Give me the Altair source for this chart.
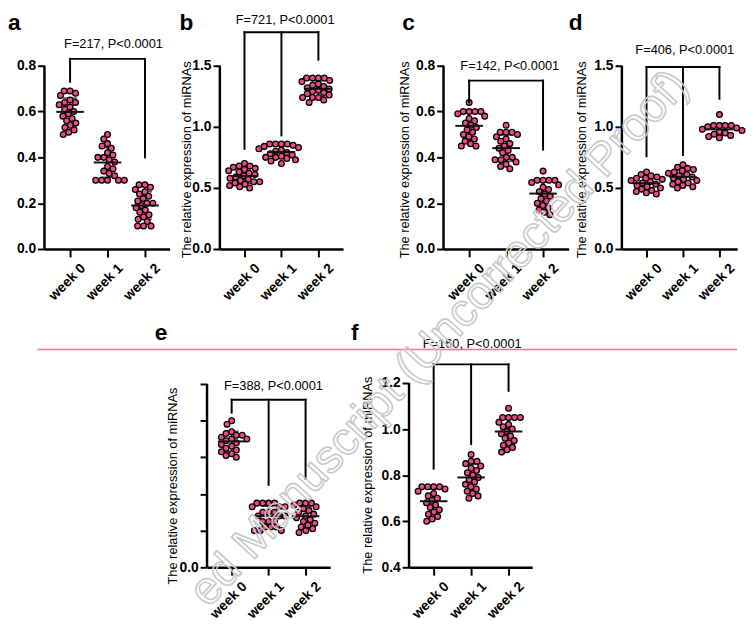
import altair as alt
import numpy as np
import pandas as pd

WEEKS = ["week 0", "week 1", "week 2"]
Y_TITLE = "The relative expression of miRNAs"
WATERMARK = "ed Manuscript (Uncorrected Proof)"
FONT = "Liberation Sans, Arial, Helvetica, sans-serif"
PINK = "#ee4b85"

# ---------------- values ----------------
a_week0 = [0.69, 0.69, 0.68, 0.67, 0.65, 0.64, 0.64, 0.63, 0.62, 0.61, 0.60, 0.59, 0.58, 0.57, 0.56, 0.55, 0.54, 0.53, 0.52, 0.51, 0.50]
a_week1 = [0.50, 0.48, 0.46, 0.45, 0.44, 0.42, 0.41, 0.40, 0.40, 0.39, 0.38, 0.36, 0.35, 0.34, 0.33, 0.32, 0.30, 0.30, 0.30, 0.30, 0.30]
a_week2 = [0.28, 0.28, 0.27, 0.26, 0.25, 0.24, 0.23, 0.22, 0.21, 0.20, 0.20, 0.19, 0.18, 0.17, 0.16, 0.15, 0.14, 0.13, 0.12, 0.10, 0.10, 0.10]

b_week0 = [0.70, 0.68, 0.68, 0.67, 0.66, 0.65, 0.64, 0.63, 0.62, 0.61, 0.60, 0.59, 0.58, 0.57, 0.56, 0.55, 0.55, 0.54, 0.53, 0.52, 0.51, 0.50]
b_week1 = [0.86, 0.86, 0.86, 0.86, 0.85, 0.84, 0.83, 0.82, 0.81, 0.80, 0.79, 0.78, 0.77, 0.76, 0.75, 0.75, 0.74, 0.73, 0.72, 0.70]
b_week2 = [1.40, 1.40, 1.40, 1.40, 1.38, 1.37, 1.35, 1.34, 1.33, 1.32, 1.31, 1.30, 1.29, 1.28, 1.27, 1.26, 1.24, 1.24, 1.24, 1.22, 1.20]

c_week0 = [0.64, 0.60, 0.60, 0.60, 0.60, 0.59, 0.58, 0.57, 0.56, 0.55, 0.54, 0.53, 0.52, 0.51, 0.50, 0.49, 0.48, 0.47, 0.46, 0.45, 0.45]
c_week1 = [0.54, 0.51, 0.51, 0.51, 0.50, 0.49, 0.48, 0.47, 0.46, 0.45, 0.44, 0.43, 0.42, 0.40, 0.40, 0.39, 0.39, 0.38, 0.37, 0.36, 0.35]
c_week2 = [0.34, 0.30, 0.30, 0.30, 0.30, 0.29, 0.28, 0.27, 0.26, 0.25, 0.24, 0.23, 0.22, 0.21, 0.20, 0.19, 0.18, 0.17, 0.16, 0.15]

d_week0 = [0.63, 0.61, 0.60, 0.59, 0.58, 0.58, 0.57, 0.56, 0.55, 0.54, 0.53, 0.52, 0.51, 0.50, 0.49, 0.48, 0.47, 0.46, 0.45]
d_week1 = [0.69, 0.67, 0.66, 0.65, 0.64, 0.63, 0.62, 0.61, 0.60, 0.59, 0.58, 0.57, 0.56, 0.55, 0.54, 0.53, 0.52, 0.51, 0.50]
d_week2 = [1.10, 1.01, 1.01, 1.01, 1.01, 1.00, 0.99, 0.98, 0.97, 0.96, 0.95, 0.94, 0.93, 0.92, 0.91]

e_week0 = [0.80, 0.78, 0.74, 0.73, 0.72, 0.72, 0.71, 0.70, 0.70, 0.69, 0.68, 0.67, 0.66, 0.65, 0.64, 0.63, 0.62, 0.61, 0.60]
e_week1 = [0.35, 0.35, 0.35, 0.35, 0.33, 0.33, 0.33, 0.30, 0.30, 0.30, 0.28, 0.28, 0.28, 0.25, 0.25, 0.25, 0.22, 0.22, 0.22, 0.20, 0.20, 0.20]
e_week2 = [0.35, 0.35, 0.35, 0.34, 0.33, 0.32, 0.31, 0.30, 0.29, 0.28, 0.27, 0.26, 0.25, 0.24, 0.23, 0.22, 0.21, 0.20, 0.19]

f_week0 = [0.75, 0.75, 0.75, 0.75, 0.74, 0.73, 0.72, 0.71, 0.70, 0.69, 0.68, 0.67, 0.66, 0.65, 0.64, 0.63, 0.62, 0.61, 0.60]
f_week1 = [0.89, 0.86, 0.86, 0.85, 0.84, 0.83, 0.82, 0.81, 0.80, 0.79, 0.78, 0.77, 0.76, 0.75, 0.74, 0.73, 0.72, 0.71, 0.70]
f_week2 = [1.09, 1.05, 1.05, 1.05, 1.05, 1.03, 1.02, 1.01, 1.00, 0.99, 0.98, 0.97, 0.96, 0.95, 0.94, 0.93, 0.92, 0.91, 0.90]

# tick values of each y axis
a_ticks = [0.0, 0.2, 0.4, 0.6, 0.8]
b_ticks = [0.0, 0.5, 1.0, 1.5]
c_ticks = [0.0, 0.2, 0.4, 0.6, 0.8]
d_ticks = [0.0, 0.5, 1.0, 1.5]
e_ticks = [0.0, 0.2, 0.4, 0.6, 0.8, 1.0]
f_ticks = [0.4, 0.6, 0.8, 1.0, 1.2]

# ANOVA annotation text, its anchor (week units, y value)
a_stat = "F=217, P<0.0001"; a_stat_at = [1.16, 0.895]
b_stat = "F=721, P<0.0001"; b_stat_at = [1.10, 1.87]
c_stat = "F=142, P<0.0001"; c_stat_at = [1.10, 0.80]
d_stat = "F=406, P<0.0001"; d_stat_at = [1.05, 1.63]
e_stat = "F=388, P<0.0001"; e_stat_at = [1.13, 0.99]
f_stat = "F=160, P<0.0001"; f_stat_at = [1.03, 1.367]

# comparison brackets: top level, the weeks that drop down, and where they end
a_br_top = 0.83;  a_br_weeks = [0, 2];    a_br_ends = [0.73, 0.40]
b_br_top = 1.774; b_br_weeks = [0, 1, 2]; b_br_ends = [0.82, 0.93, 1.55]
c_br_top = 0.735; c_br_weeks = [0, 2];    c_br_ends = [0.64, 0.434]
d_br_top = 1.49;  d_br_weeks = [0, 1, 2]; d_br_ends = [0.76, 0.77, 1.23]
e_br_top = 0.914; e_br_weeks = [0, 1, 2]; e_br_ends = [0.844, 0.45, 0.484]
f_br_top = 1.281; f_br_weeks = [0, 1, 2]; f_br_ends = [0.828, 0.935, 1.166]

# ---------------- layout (pixels) ----------------
H1 = 240
H2 = 249
LAYOUT = {
    "a": dict(width=127, step=38.0, first=26, ppu=232.5, ylo=0.0, height=H1, tx=None, ty=None, ldx=-37),
    "b": dict(width=125, step=37.5, first=25, ppu=124.0, ylo=0.0, height=H1, tx=-34, ty=149, ldx=-41),
    "c": dict(width=127, step=37.5, first=26, ppu=232.5, ylo=0.0, height=H1, tx=-40, ty=149, ldx=-42),
    "d": dict(width=117, step=37.0, first=25, ppu=124.0, ylo=0.0, height=H1, tx=-41, ty=149, ldx=-54),
    "e": dict(width=125, step=37.5, first=25, ppu=186.0, ylo=0.0, height=H2, tx=-35, ty=166, ldx=-53),
    "f": dict(width=125, step=38.0, first=25, ppu=233.75, ylo=0.4, height=H2, tx=-42, ty=155, ldx=-59),
}
DOT = 6.0  # dot spacing for the swarm layout (px)
# watermark: end point relative to panel f's origin, rotation, size
WM_X, WM_Y, WM_ANGLE, WM_SIZE = 275, -248, 312.7, 47
ROW_GAP = -246  # the watermark raises row 2's bounding box top


def swarm(vals, ppu, diam=DOT):
    """Beeswarm layout: horizontal pixel offsets so dots do not overlap."""
    ys = np.asarray(vals, dtype=float) * ppu
    order = np.argsort(-ys, kind="stable")
    placed = []
    out = np.zeros(len(ys))
    for n, i in enumerate(order):
        y = ys[i]
        cands = [0.0]
        for px, py in placed:
            dy = abs(py - y)
            if dy < diam:
                dx = float(np.sqrt(diam * diam - dy * dy))
                cands += [px + dx, px - dx]
        sign = 1 if n % 2 else -1
        cands.sort(key=lambda c: (round(abs(c), 6), sign * c))
        for c in cands:
            if all((c - px) ** 2 + (y - py) ** 2 >= diam * diam - 1e-6 for px, py in placed):
                out[i] = c
                placed.append((c, y))
                break
    return out


def panel(key, groups, ticks, stat, stat_at, br_top, br_weeks, br_ends, zero_only=False, watermark=False):
    L = LAYOUT[key]
    step = L["step"]
    xlo = -L["first"] / step
    xhi = xlo + L["width"] / step
    ylo = L["ylo"]
    yhi = ylo + L["height"] / L["ppu"]

    rows, stats = [], []
    for wi, vals in enumerate(groups):
        offs = swarm(vals, L["ppu"])
        for v, o in zip(vals, offs):
            rows.append({"x": wi + o / step, "v": v})
        m = float(np.mean(vals))
        s = float(np.std(vals, ddof=1))
        stats.append({"w": wi, "m": m, "s": s})
    pts = pd.DataFrame(rows)
    st = pd.DataFrame(stats)

    xaxis = alt.Axis(values=[0, 1, 2], labelExpr="'week ' + datum.value", labelAngle=315,
                     labelAlign="right", labelBaseline="middle", labelOffset=13, labelPadding=9,
                     labelFontSize=14, labelFontWeight="bold", labelOverlap=False, labelFlush=False,
                     tickSize=8, tickWidth=2, domainWidth=2.5, grid=False)
    X = alt.X("x:Q", scale=alt.Scale(domain=[xlo, xhi], nice=False, zero=False), axis=xaxis, title=None)

    ykw = dict(values=ticks, format=".1f", domain=False, tickSize=7, tickWidth=2,
               labelFontSize=14, labelFontWeight="bold", labelPadding=2, labelFlush=False,
               labelOverlap=False, grid=False)
    if zero_only:
        ykw["labelExpr"] = "datum.value == 0 ? '0.0' : ''"
    yscale = alt.Scale(domain=[ylo, yhi], nice=False, zero=False)
    if L["tx"] is not None:
        ykw.update(title=Y_TITLE, titleX=L["tx"], titleY=L["ty"], titleAngle=270,
                   titleAlign="center", titleBaseline="middle", titleFontSize=13,
                   titleFontWeight="normal")
        Y = alt.Y("v:Q", scale=yscale, axis=alt.Axis(**ykw))
    else:
        Y = alt.Y("v:Q", scale=yscale, axis=alt.Axis(**ykw), title=None)

    # y axis line (stops at the last tick)
    axis_df = pd.DataFrame({"v": [ticks[0]], "v2": [ticks[-1]]})
    axis_line = alt.Chart(axis_df).mark_rule(color="black", strokeWidth=2.5).encode(
        x=alt.value(0), y=Y, y2=alt.Y2("v2"))

    cap = 7.0 / step
    half = 14.0 / step
    sd_df = pd.DataFrame({"x": st["w"], "v": st["m"] - st["s"], "v2": st["m"] + st["s"]})
    sd_bar = alt.Chart(sd_df).mark_rule(color="#444444", strokeWidth=1.5).encode(x=X, y=Y, y2=alt.Y2("v2"))
    caps_df = pd.DataFrame({
        "x": list(st["w"] - cap) * 2, "x2": list(st["w"] + cap) * 2,
        "v": list(st["m"] - st["s"]) + list(st["m"] + st["s"])})
    sd_caps = alt.Chart(caps_df).mark_rule(color="#444444", strokeWidth=1.5).encode(x=X, x2=alt.X2("x2"), y=Y)

    dots = alt.Chart(pts).mark_circle(color=PINK, opacity=1, size=34, stroke="black",
                                      strokeWidth=1.3).encode(x=X, y=Y)

    mean_df = pd.DataFrame({"x": st["w"] - half, "x2": st["w"] + half, "v": st["m"]})
    mean_line = alt.Chart(mean_df).mark_rule(color="#111111", strokeWidth=2).encode(
        x=X, x2=alt.X2("x2"), y=Y)

    drop_df = pd.DataFrame({"x": br_weeks, "v": br_ends, "v2": [br_top] * len(br_weeks)})
    drops = alt.Chart(drop_df).mark_rule(color="black", strokeWidth=2, strokeCap="square").encode(
        x=X, y=Y, y2=alt.Y2("v2"))
    top_df = pd.DataFrame({"x": [0], "x2": [2], "v": [br_top]})
    top = alt.Chart(top_df).mark_rule(color="black", strokeWidth=2, strokeCap="square").encode(
        x=X, x2=alt.X2("x2"), y=Y)

    stat_df = pd.DataFrame({"x": [stat_at[0]], "v": [stat_at[1]], "t": [stat]})
    stat_txt = alt.Chart(stat_df).mark_text(font=FONT, fontSize=13, color="black", align="center",
                                            baseline="middle").encode(x=X, y=Y, text="t:N")

    letter_df = pd.DataFrame({"t": [key]})
    letter = alt.Chart(letter_df).mark_text(font=FONT, fontSize=23, fontWeight="bold", color="black",
                                            align="left", baseline="top").encode(
        x=alt.value(L["ldx"]), y=alt.value(0), text="t:N")

    layers = [axis_line, sd_bar, sd_caps, dots, mean_line, drops, top, stat_txt, letter]
    if watermark:
        wm = alt.Chart(pd.DataFrame({"t": [WATERMARK]})).mark_text(
            font=FONT, fontSize=WM_SIZE, angle=WM_ANGLE, align="right", baseline="middle",
            fill="white", fillOpacity=0, stroke="#c9c9c9", strokeWidth=1.6
        ).encode(x=alt.value(WM_X), y=alt.value(WM_Y), text="t:N")
        layers.append(wm)
    return alt.layer(*layers).properties(width=L["width"], height=L["height"])


def spacer(w, h):
    return alt.Chart(pd.DataFrame({"s": [0]})).mark_point(opacity=0).properties(width=w, height=h)


pa = panel("a", [a_week0, a_week1, a_week2], a_ticks, a_stat, a_stat_at, a_br_top, a_br_weeks, a_br_ends)
pb = panel("b", [b_week0, b_week1, b_week2], b_ticks, b_stat, b_stat_at, b_br_top, b_br_weeks, b_br_ends)
pc = panel("c", [c_week0, c_week1, c_week2], c_ticks, c_stat, c_stat_at, c_br_top, c_br_weeks, c_br_ends)
pd_ = panel("d", [d_week0, d_week1, d_week2], d_ticks, d_stat, d_stat_at, d_br_top, d_br_weeks, d_br_ends)
pe = panel("e", [e_week0, e_week1, e_week2], e_ticks, e_stat, e_stat_at, e_br_top, e_br_weeks, e_br_ends,
           zero_only=True)
pf = panel("f", [f_week0, f_week1, f_week2], f_ticks, f_stat, f_stat_at, f_br_top, f_br_weeks, f_br_ends,
           watermark=True)

# row 2 starts at the same origin as panel a (x = 45 on the page), so the first
# spacer spans from there to panel e's axis; the pink rule runs across the row.
pink_line = alt.Chart(pd.DataFrame({"s": [0]})).mark_rule(color="#e8799a", strokeWidth=1.5).encode(
    x=alt.value(-7), x2=alt.value(703), y=alt.value(28)).properties(width=165, height=H2)

row1 = alt.hconcat(pa, spacer(51, H1), pb, spacer(102, H1), pc, spacer(54, H1), pd_,
                   spacing=0, bounds="flush")
row2 = alt.hconcat(pink_line, pe, spacer(80, H2), pf, spacing=0, bounds="flush")

chart = alt.vconcat(row1, row2, spacing=ROW_GAP).properties(
    padding=0, background="white"
).configure_view(strokeWidth=0).configure_axis(
    labelFont=FONT, titleFont=FONT, labelColor="black", titleColor="black",
    domainColor="black", tickColor="black"
)

chart.save("out.html", embed_options={"renderer": "svg", "actions": False})
